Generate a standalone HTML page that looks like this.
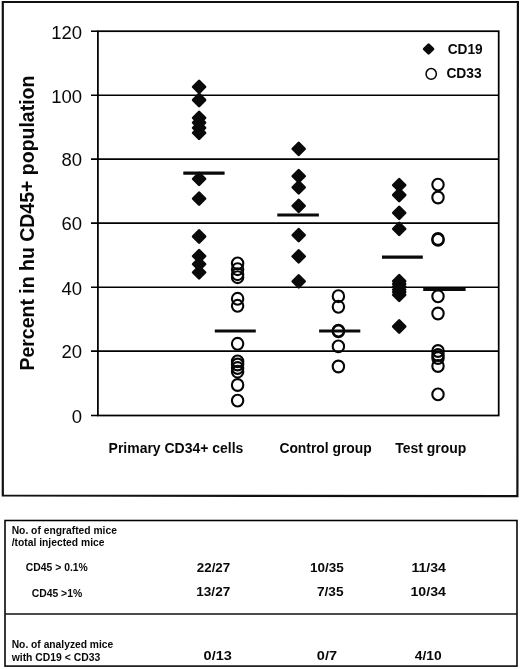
<!DOCTYPE html>
<html><head><meta charset="utf-8"><title>Figure</title>
<style>
html,body{margin:0;padding:0;background:#fff;}
body{width:520px;height:669px;overflow:hidden;font-family:"Liberation Sans",sans-serif;}
svg{display:block;filter:blur(0.25px);}
text{font-family:"Liberation Sans",sans-serif;fill:#080808;}
.b{font-weight:bold;}
.e{}
</style></head><body>
<svg width="520" height="669" viewBox="0 0 520 669">
<rect x="0" y="0" width="520" height="669" fill="#fff"/>

<path d="M2.8 2 L517.9 2 L517.4 496.2 L2.8 495.5 Z" fill="none" stroke="#111" stroke-width="2.2"/>
<line x1="91" x2="498.7" y1="95.3" y2="95.3" stroke="#000" stroke-width="1.55"/>
<line x1="91" x2="498.7" y1="159.1" y2="159.1" stroke="#000" stroke-width="1.55"/>
<line x1="91" x2="498.7" y1="223.1" y2="223.1" stroke="#000" stroke-width="1.55"/>
<line x1="91" x2="498.7" y1="287.2" y2="287.2" stroke="#000" stroke-width="1.55"/>
<line x1="91" x2="498.7" y1="351.1" y2="351.1" stroke="#000" stroke-width="1.55"/>
<line x1="91" x2="98" y1="31.2" y2="31.2" stroke="#000" stroke-width="1.55"/>
<line x1="91" x2="98" y1="415.5" y2="415.5" stroke="#000" stroke-width="1.55"/>
<rect x="97.9" y="31.2" width="400.8" height="384.3" fill="none" stroke="#000" stroke-width="1.75"/>
<text x="82" y="38.5" font-size="18.5" text-anchor="end">120</text>
<text x="82" y="102.6" font-size="18.5" text-anchor="end">100</text>
<text x="82" y="166.4" font-size="18.5" text-anchor="end">80</text>
<text x="82" y="230.4" font-size="18.5" text-anchor="end">60</text>
<text x="82" y="294.5" font-size="18.5" text-anchor="end">40</text>
<text x="82" y="358.4" font-size="18.5" text-anchor="end">20</text>
<text x="82" y="422.8" font-size="18.5" text-anchor="end">0</text>
<text class="b e" font-size="19.3" textLength="295" lengthAdjust="spacingAndGlyphs" transform="translate(34.3,370.6) rotate(-90)">Percent in hu CD45+ population</text>
<text class="b e" font-size="13.8" x="108.6" y="452.7" textLength="134.8" lengthAdjust="spacingAndGlyphs">Primary CD34+ cells</text>
<text class="b e" font-size="13.8" x="279.4" y="452.7" textLength="92.3" lengthAdjust="spacingAndGlyphs">Control group</text>
<text class="b e" font-size="13.8" x="395.2" y="452.7" textLength="71.1" lengthAdjust="spacingAndGlyphs">Test group</text>
<path d="M428.6 44.55L433.05 49L428.6 53.45L424.15000000000003 49Z" fill="#0a0a0a" stroke="#0a0a0a" stroke-width="2.6" stroke-linejoin="round"/>
<ellipse cx="431.2" cy="73.9" rx="5.15" ry="5.3500000000000005" fill="none" stroke="#050505" stroke-width="1.5"/>
<text class="b e" font-size="14.2" x="447.7" y="53.7" textLength="35" lengthAdjust="spacingAndGlyphs">CD19</text>
<text class="b e" font-size="14.2" x="446.4" y="78.1" textLength="35.3" lengthAdjust="spacingAndGlyphs">CD33</text>
<line x1="183.3" x2="224.6" y1="173.2" y2="173.2" stroke="#0a0a0a" stroke-width="3.2"/>
<line x1="214.8" x2="255.8" y1="331" y2="331" stroke="#0a0a0a" stroke-width="3.2"/>
<line x1="277.3" x2="318.9" y1="215" y2="215" stroke="#0a0a0a" stroke-width="3.2"/>
<line x1="319.1" x2="360.3" y1="331" y2="331" stroke="#0a0a0a" stroke-width="3.2"/>
<line x1="382" x2="422.8" y1="257.1" y2="257.1" stroke="#0a0a0a" stroke-width="3.2"/>
<line x1="423.2" x2="465.6" y1="289.5" y2="289.5" stroke="#0a0a0a" stroke-width="3.2"/>
<path d="M199.1 80.8L205.1 86.8L199.1 92.8L193.1 86.8Z" fill="#0a0a0a" stroke="#0a0a0a" stroke-width="2.6" stroke-linejoin="round"/>
<path d="M199.1 94.0L205.1 100L199.1 106.0L193.1 100Z" fill="#0a0a0a" stroke="#0a0a0a" stroke-width="2.6" stroke-linejoin="round"/>
<path d="M199.1 111.8L205.1 117.8L199.1 123.8L193.1 117.8Z" fill="#0a0a0a" stroke="#0a0a0a" stroke-width="2.6" stroke-linejoin="round"/>
<path d="M199.1 116.7L205.1 122.7L199.1 128.7L193.1 122.7Z" fill="#0a0a0a" stroke="#0a0a0a" stroke-width="2.6" stroke-linejoin="round"/>
<path d="M199.1 121.8L205.1 127.8L199.1 133.8L193.1 127.8Z" fill="#0a0a0a" stroke="#0a0a0a" stroke-width="2.6" stroke-linejoin="round"/>
<path d="M199.1 126.80000000000001L205.1 132.8L199.1 138.8L193.1 132.8Z" fill="#0a0a0a" stroke="#0a0a0a" stroke-width="2.6" stroke-linejoin="round"/>
<path d="M199.1 172.8L205.1 178.8L199.1 184.8L193.1 178.8Z" fill="#0a0a0a" stroke="#0a0a0a" stroke-width="2.6" stroke-linejoin="round"/>
<path d="M199.1 192.6L205.1 198.6L199.1 204.6L193.1 198.6Z" fill="#0a0a0a" stroke="#0a0a0a" stroke-width="2.6" stroke-linejoin="round"/>
<path d="M199.1 230.5L205.1 236.5L199.1 242.5L193.1 236.5Z" fill="#0a0a0a" stroke="#0a0a0a" stroke-width="2.6" stroke-linejoin="round"/>
<path d="M199.1 250.10000000000002L205.1 256.1L199.1 262.1L193.1 256.1Z" fill="#0a0a0a" stroke="#0a0a0a" stroke-width="2.6" stroke-linejoin="round"/>
<path d="M199.1 258.2L205.1 264.2L199.1 270.2L193.1 264.2Z" fill="#0a0a0a" stroke="#0a0a0a" stroke-width="2.6" stroke-linejoin="round"/>
<path d="M199.1 266.4L205.1 272.4L199.1 278.4L193.1 272.4Z" fill="#0a0a0a" stroke="#0a0a0a" stroke-width="2.6" stroke-linejoin="round"/>
<path d="M298.7 142.8L304.7 148.8L298.7 154.8L292.7 148.8Z" fill="#0a0a0a" stroke="#0a0a0a" stroke-width="2.6" stroke-linejoin="round"/>
<path d="M298.7 170.2L304.7 176.2L298.7 182.2L292.7 176.2Z" fill="#0a0a0a" stroke="#0a0a0a" stroke-width="2.6" stroke-linejoin="round"/>
<path d="M298.7 181.4L304.7 187.4L298.7 193.4L292.7 187.4Z" fill="#0a0a0a" stroke="#0a0a0a" stroke-width="2.6" stroke-linejoin="round"/>
<path d="M298.7 199.9L304.7 205.9L298.7 211.9L292.7 205.9Z" fill="#0a0a0a" stroke="#0a0a0a" stroke-width="2.6" stroke-linejoin="round"/>
<path d="M298.7 229.1L304.7 235.1L298.7 241.1L292.7 235.1Z" fill="#0a0a0a" stroke="#0a0a0a" stroke-width="2.6" stroke-linejoin="round"/>
<path d="M298.7 250.39999999999998L304.7 256.4L298.7 262.4L292.7 256.4Z" fill="#0a0a0a" stroke="#0a0a0a" stroke-width="2.6" stroke-linejoin="round"/>
<path d="M298.7 275.3L304.7 281.3L298.7 287.3L292.7 281.3Z" fill="#0a0a0a" stroke="#0a0a0a" stroke-width="2.6" stroke-linejoin="round"/>
<path d="M399.2 179.2L405.2 185.2L399.2 191.2L393.2 185.2Z" fill="#0a0a0a" stroke="#0a0a0a" stroke-width="2.6" stroke-linejoin="round"/>
<path d="M399.2 189.0L405.2 195L399.2 201.0L393.2 195Z" fill="#0a0a0a" stroke="#0a0a0a" stroke-width="2.6" stroke-linejoin="round"/>
<path d="M399.2 206.8L405.2 212.8L399.2 218.8L393.2 212.8Z" fill="#0a0a0a" stroke="#0a0a0a" stroke-width="2.6" stroke-linejoin="round"/>
<path d="M399.2 222.9L405.2 228.9L399.2 234.9L393.2 228.9Z" fill="#0a0a0a" stroke="#0a0a0a" stroke-width="2.6" stroke-linejoin="round"/>
<path d="M399.2 275.2L405.2 281.2L399.2 287.2L393.2 281.2Z" fill="#0a0a0a" stroke="#0a0a0a" stroke-width="2.6" stroke-linejoin="round"/>
<path d="M399.2 277.9L405.2 283.9L399.2 289.9L393.2 283.9Z" fill="#0a0a0a" stroke="#0a0a0a" stroke-width="2.6" stroke-linejoin="round"/>
<path d="M399.2 280.7L405.2 286.7L399.2 292.7L393.2 286.7Z" fill="#0a0a0a" stroke="#0a0a0a" stroke-width="2.6" stroke-linejoin="round"/>
<path d="M399.2 283.7L405.2 289.7L399.2 295.7L393.2 289.7Z" fill="#0a0a0a" stroke="#0a0a0a" stroke-width="2.6" stroke-linejoin="round"/>
<path d="M399.2 286.2L405.2 292.2L399.2 298.2L393.2 292.2Z" fill="#0a0a0a" stroke="#0a0a0a" stroke-width="2.6" stroke-linejoin="round"/>
<path d="M399.2 288.8L405.2 294.8L399.2 300.8L393.2 294.8Z" fill="#0a0a0a" stroke="#0a0a0a" stroke-width="2.6" stroke-linejoin="round"/>
<path d="M399.2 320.5L405.2 326.5L399.2 332.5L393.2 326.5Z" fill="#0a0a0a" stroke="#0a0a0a" stroke-width="2.6" stroke-linejoin="round"/>
<ellipse cx="237.6" cy="263.4" rx="5.7" ry="5.9" fill="none" stroke="#050505" stroke-width="2.1"/>
<ellipse cx="237.6" cy="269.2" rx="5.7" ry="5.9" fill="none" stroke="#050505" stroke-width="2.1"/>
<ellipse cx="237.6" cy="274.2" rx="5.7" ry="5.9" fill="none" stroke="#050505" stroke-width="2.1"/>
<ellipse cx="237.6" cy="277.2" rx="5.7" ry="5.9" fill="none" stroke="#050505" stroke-width="2.1"/>
<ellipse cx="237.6" cy="298.8" rx="5.7" ry="5.9" fill="none" stroke="#050505" stroke-width="2.1"/>
<ellipse cx="237.6" cy="305.8" rx="5.7" ry="5.9" fill="none" stroke="#050505" stroke-width="2.1"/>
<ellipse cx="237.6" cy="343.8" rx="5.7" ry="5.9" fill="none" stroke="#050505" stroke-width="2.1"/>
<ellipse cx="237.6" cy="361.4" rx="5.7" ry="5.9" fill="none" stroke="#050505" stroke-width="2.1"/>
<ellipse cx="237.6" cy="364.5" rx="5.7" ry="5.9" fill="none" stroke="#050505" stroke-width="2.1"/>
<ellipse cx="237.6" cy="368" rx="5.7" ry="5.9" fill="none" stroke="#050505" stroke-width="2.1"/>
<ellipse cx="237.6" cy="371.7" rx="5.7" ry="5.9" fill="none" stroke="#050505" stroke-width="2.1"/>
<ellipse cx="237.6" cy="385" rx="5.7" ry="5.9" fill="none" stroke="#050505" stroke-width="2.1"/>
<ellipse cx="237.6" cy="400.6" rx="5.7" ry="5.9" fill="none" stroke="#050505" stroke-width="2.1"/>
<ellipse cx="338.4" cy="296.2" rx="5.7" ry="5.9" fill="none" stroke="#050505" stroke-width="2.1"/>
<ellipse cx="338.4" cy="306.8" rx="5.7" ry="5.9" fill="none" stroke="#050505" stroke-width="2.1"/>
<ellipse cx="338.4" cy="330.6" rx="5.7" ry="5.9" fill="none" stroke="#050505" stroke-width="2.1"/>
<ellipse cx="338.4" cy="331.4" rx="5.7" ry="5.9" fill="none" stroke="#050505" stroke-width="2.1"/>
<ellipse cx="338.4" cy="346.4" rx="5.7" ry="5.9" fill="none" stroke="#050505" stroke-width="2.1"/>
<ellipse cx="338.4" cy="366.5" rx="5.7" ry="5.9" fill="none" stroke="#050505" stroke-width="2.1"/>
<ellipse cx="438" cy="184.6" rx="5.7" ry="5.9" fill="none" stroke="#050505" stroke-width="2.1"/>
<ellipse cx="438" cy="197.5" rx="5.7" ry="5.9" fill="none" stroke="#050505" stroke-width="2.1"/>
<ellipse cx="438" cy="239" rx="5.7" ry="5.9" fill="none" stroke="#050505" stroke-width="2.1"/>
<ellipse cx="438" cy="239.9" rx="5.7" ry="5.9" fill="none" stroke="#050505" stroke-width="2.1"/>
<ellipse cx="438" cy="296.3" rx="5.7" ry="5.9" fill="none" stroke="#050505" stroke-width="2.1"/>
<ellipse cx="438" cy="313.5" rx="5.7" ry="5.9" fill="none" stroke="#050505" stroke-width="2.1"/>
<ellipse cx="438" cy="351" rx="5.7" ry="5.9" fill="none" stroke="#050505" stroke-width="2.1"/>
<ellipse cx="438" cy="355" rx="5.7" ry="5.9" fill="none" stroke="#050505" stroke-width="2.1"/>
<ellipse cx="438" cy="358" rx="5.7" ry="5.9" fill="none" stroke="#050505" stroke-width="2.1"/>
<ellipse cx="438" cy="366" rx="5.7" ry="5.9" fill="none" stroke="#050505" stroke-width="2.1"/>
<ellipse cx="438" cy="394.4" rx="5.7" ry="5.9" fill="none" stroke="#050505" stroke-width="2.1"/>
<rect x="5" y="520.5" width="512" height="145.6" fill="none" stroke="#000" stroke-width="1.55"/>
<line x1="5" x2="517" y1="614" y2="614" stroke="#111" stroke-width="1.3"/>
<text class="b" font-size="10.5" x="11.7" y="533.5" textLength="105.2" lengthAdjust="spacingAndGlyphs">No. of engrafted mice</text>
<text class="b" font-size="10.5" x="11.7" y="545.9" textLength="92.8" lengthAdjust="spacingAndGlyphs">/total injected mice</text>
<text class="b" font-size="10.5" x="25.8" y="571.1" textLength="62" lengthAdjust="spacingAndGlyphs">CD45 &gt; 0.1%</text>
<text class="b" font-size="10.5" x="31.7" y="596.6" textLength="50.5" lengthAdjust="spacingAndGlyphs">CD45 &gt;1%</text>
<text class="b" font-size="10.5" x="11.7" y="648" textLength="101.6" lengthAdjust="spacingAndGlyphs">No. of analyzed mice</text>
<text class="b" font-size="10.5" x="11.7" y="660.5" textLength="88.6" lengthAdjust="spacingAndGlyphs">with CD19 &lt; CD33</text>
<text class="b" font-size="13.4" x="196.8" y="571.7" textLength="33.4" lengthAdjust="spacingAndGlyphs">22/27</text>
<text class="b" font-size="13.4" x="196.3" y="596.2" textLength="33.9" lengthAdjust="spacingAndGlyphs">13/27</text>
<text class="b" font-size="12.6" x="310" y="571.9" textLength="33.8" lengthAdjust="spacingAndGlyphs">10/35</text>
<text class="b" font-size="12.6" x="316.9" y="596.2" textLength="26.6" lengthAdjust="spacingAndGlyphs">7/35</text>
<text class="b" font-size="12.6" x="411.5" y="571.9" textLength="34.4" lengthAdjust="spacingAndGlyphs">11/34</text>
<text class="b" font-size="12.6" x="410.5" y="596.2" textLength="35.4" lengthAdjust="spacingAndGlyphs">10/34</text>
<text class="b" font-size="13" x="203.6" y="659.6" textLength="28.2" lengthAdjust="spacingAndGlyphs">0/13</text>
<text class="b" font-size="13" x="316.8" y="659.6" textLength="20.2" lengthAdjust="spacingAndGlyphs">0/7</text>
<text class="b" font-size="13" x="414.8" y="659.6" textLength="26.9" lengthAdjust="spacingAndGlyphs">4/10</text>
</svg></body></html>
